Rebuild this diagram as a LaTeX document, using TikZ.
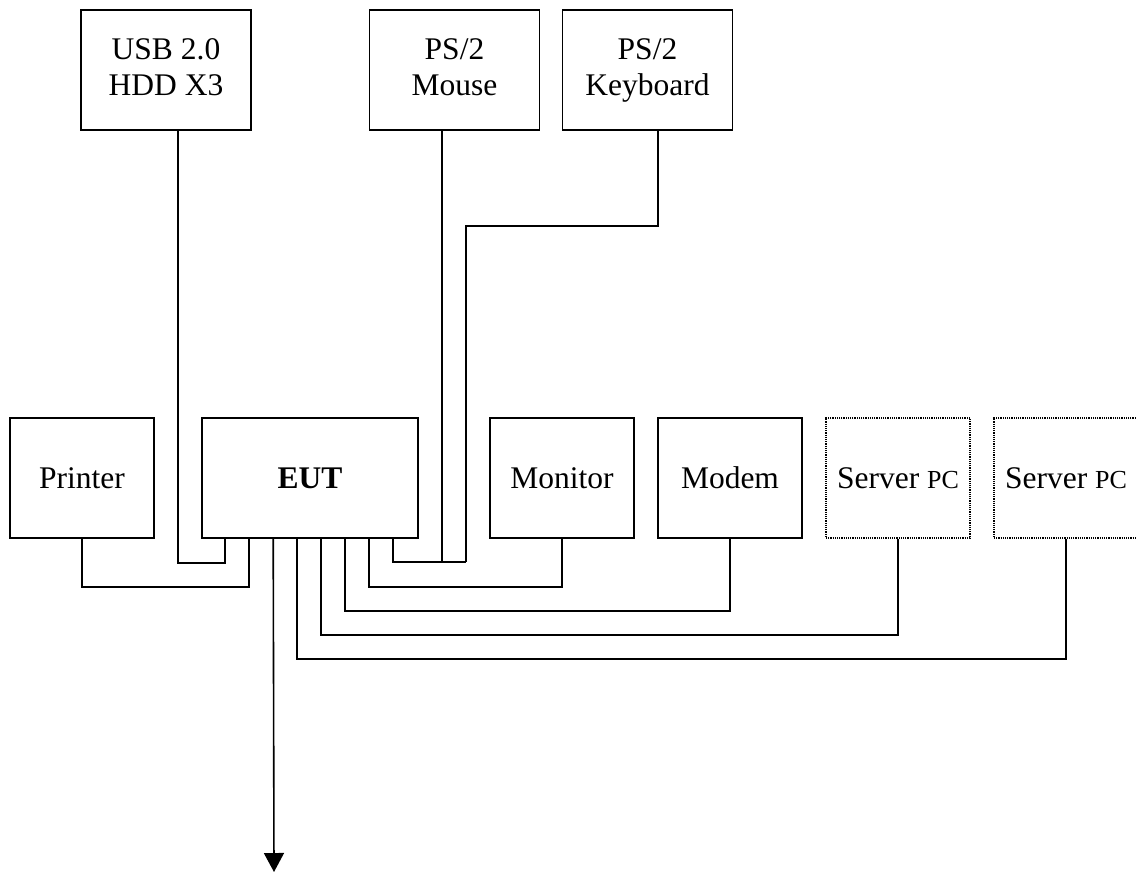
\documentclass[tikz,border=0pt]{standalone}
\usepackage{fontspec}
\setmainfont{Liberation Serif}
\usetikzlibrary{arrows.meta,calc}
\begin{document}
\begin{tikzpicture}[x=1pt,y=-1pt,
  every node/.style={font=\fontsize{31.5}{36.5}\selectfont, align=center, inner sep=0pt},
  dev/.style={draw, line width=1.6pt, minimum width=#1, minimum height=120pt},
  dev/.default=144pt,
  srv/.style={draw, line width=1.2pt, densely dotted, minimum width=144pt, minimum height=120pt},
  wire/.style={line width=1.6pt}]
\path[use as bounding box, clip] (0,0) rectangle (1136,876);
% top devices
\node[dev=170pt] (usb) at (166,70) {\strut USB 2.0\\\strut HDD X3};
\node[dev=170pt] (mouse) at (454.5,70) {\strut PS/2\\\strut Mouse};
\node[dev=170pt] (kbd) at (647.5,70) {\strut PS/2\\\strut Keyboard};
% middle row
\node[dev] (printer) at (82,478) {Printer};
\node[dev=216pt] (eut) at (310,478) {\textbf{EUT}};
\node[dev] (monitor) at (562,478) {Monitor};
\node[dev] (modem) at (730,478) {Modem};
\node[srv] (srv1) at (898,478) {Server {\fontsize{26}{30}\selectfont PC}};
\node[srv] (srv2) at (1066,478) {Server {\fontsize{26}{30}\selectfont PC}};
% ports on EUT
\foreach \i in {1,...,8} {\coordinate (e\i) at ($(eut.south west)+(24*\i,0)$);}
\coordinate (usbp) at (178,130);
\coordinate (mousep) at (442,130);
\coordinate (kbdp) at (658,130);
\coordinate (kbbend) at (466,226);
\coordinate (join) at (466,562);
\coordinate (down) at (274,872);
% connectors
\draw[wire] (usbp) |- ($(e1)+(0,24)$) -- (e1);
\draw[wire] (printer.south) |- ($(e2)+(0,48)$) -- (e2);
\draw[wire, -{Triangle[width=20pt,length=19pt]}] (e3) -- (down);
\draw[wire] (e4) -- ++(0,120) -| (srv2.south);
\draw[wire] (e5) -- ++(0,96) -| (srv1.south);
\draw[wire] (e6) -- ++(0,72) -| (modem.south);
\draw[wire] (e7) -- ++(0,48) -| (monitor.south);
\draw[wire] (e8) |- (join);
\draw[wire] (mousep) -- (mousep |- join);
\draw[wire] (kbdp) |- (kbbend) -- (join);
\end{tikzpicture}
\end{document}
